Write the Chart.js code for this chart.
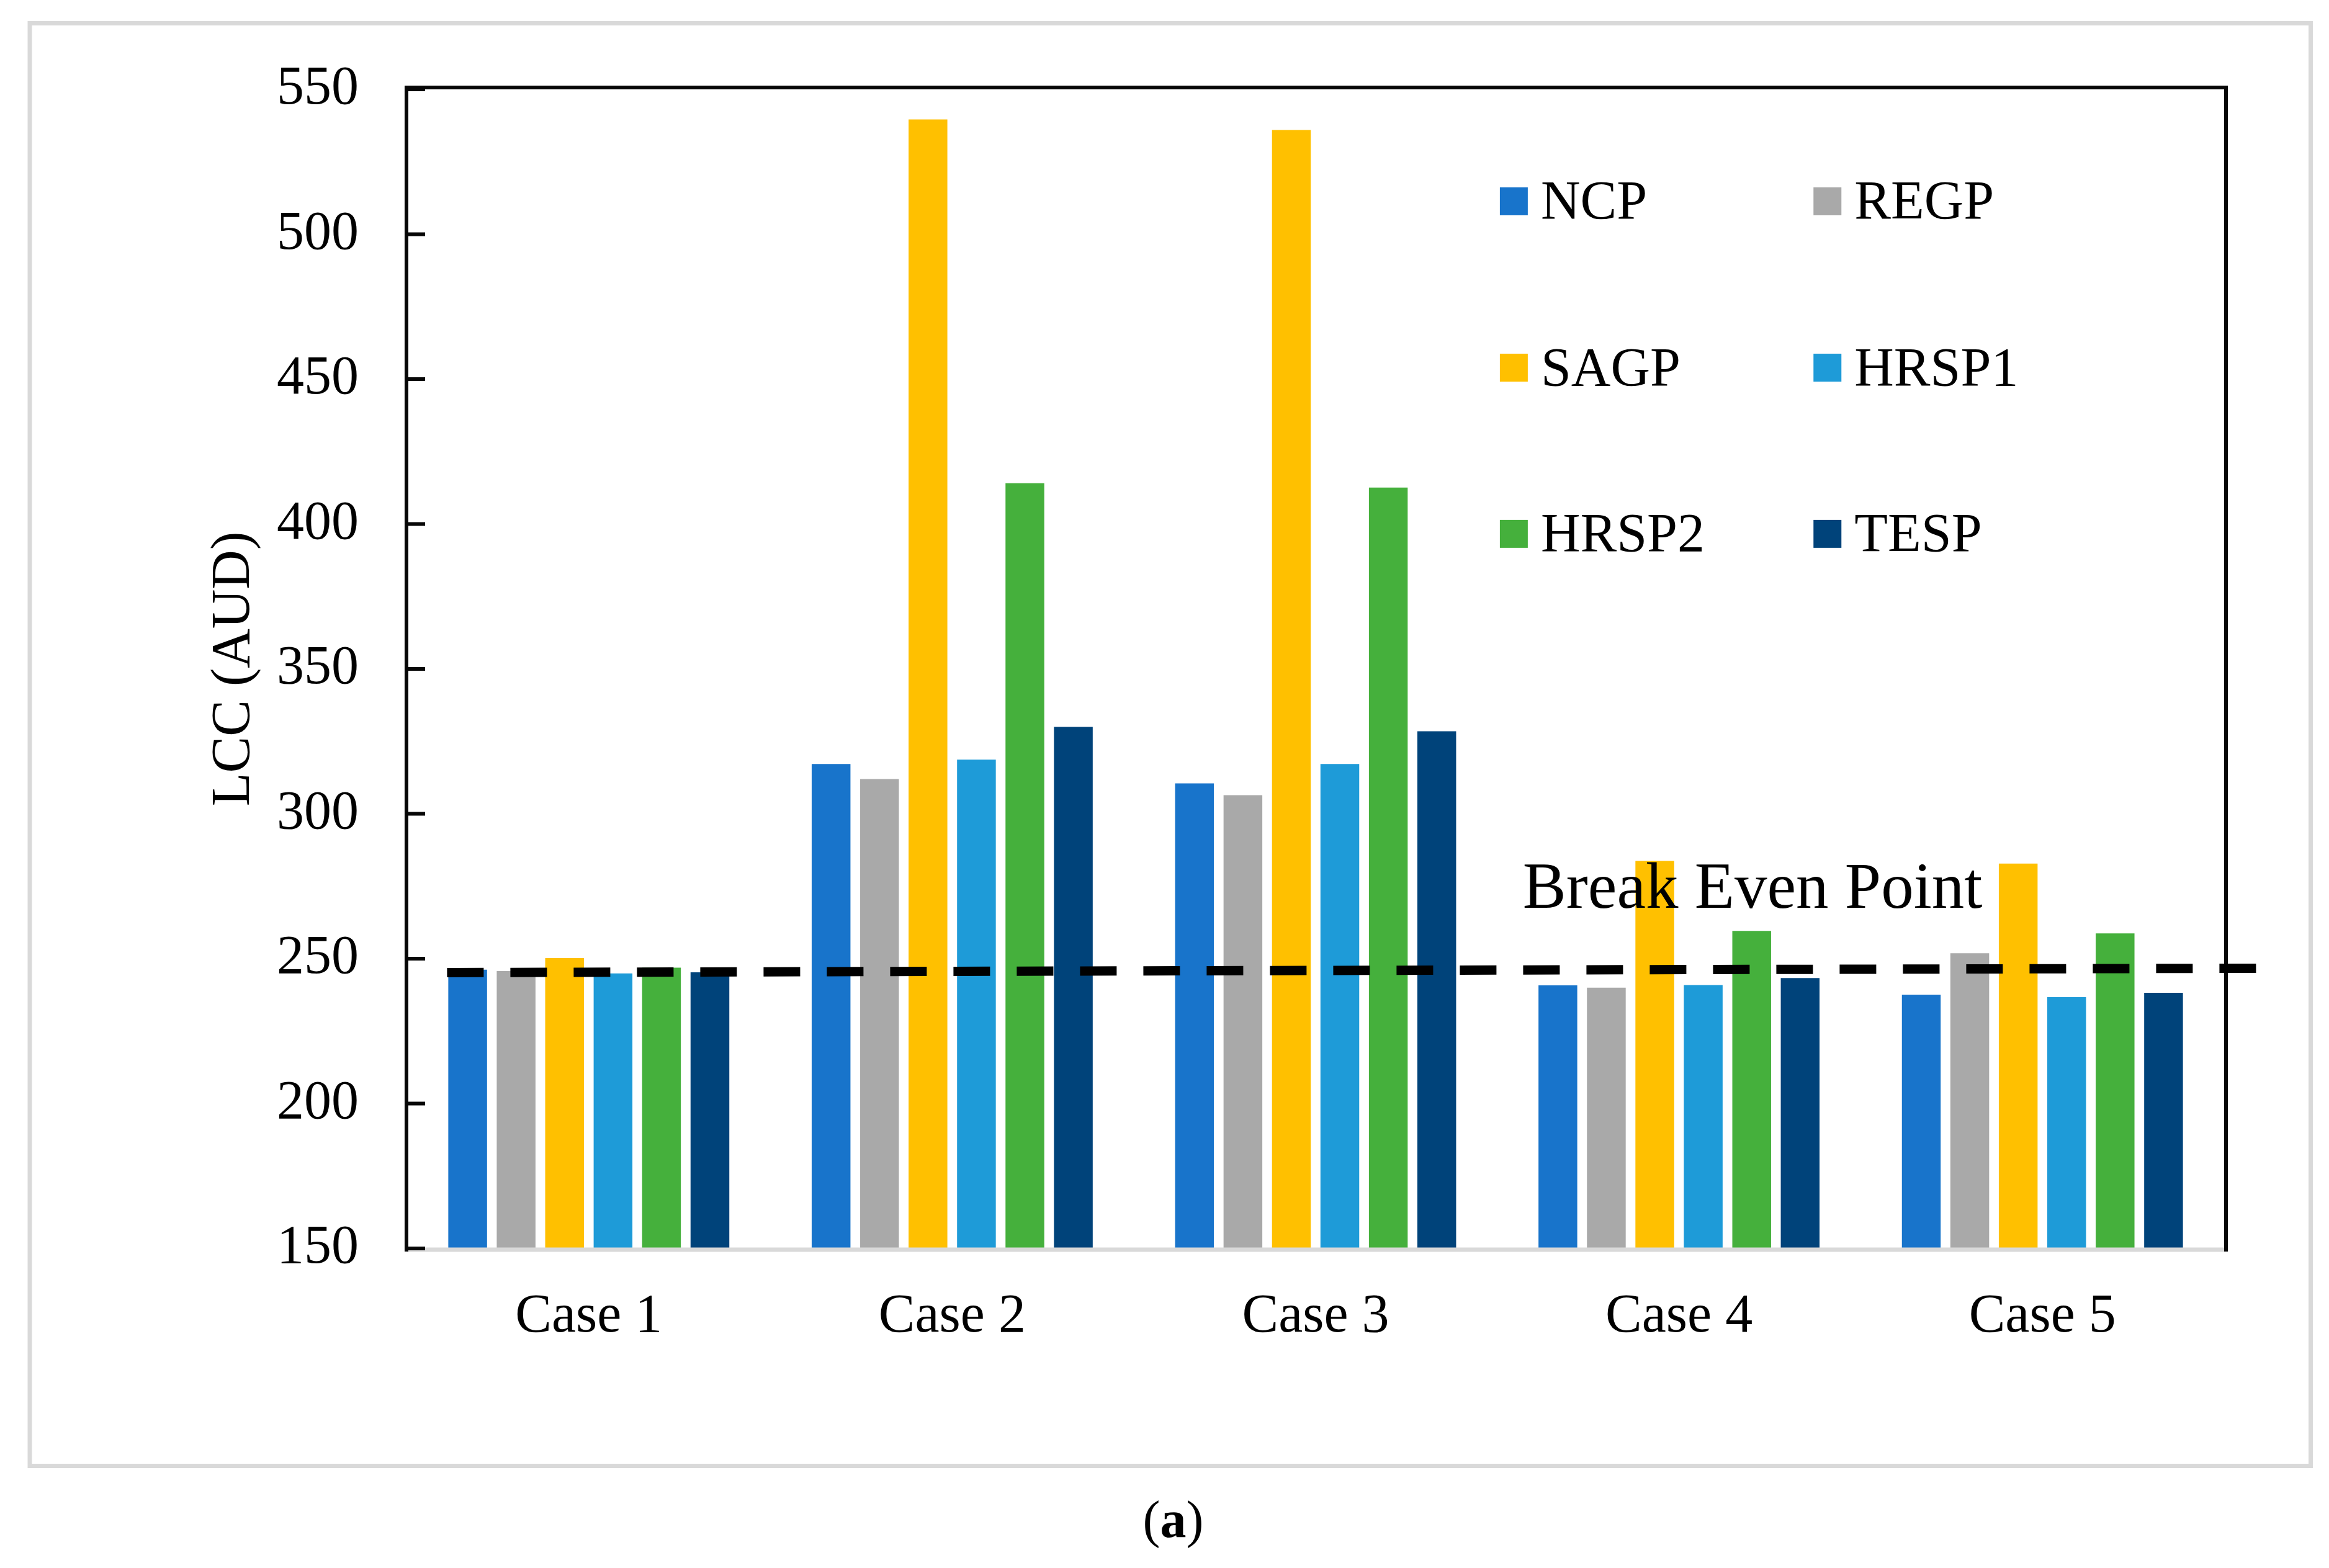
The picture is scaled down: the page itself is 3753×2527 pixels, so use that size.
<!DOCTYPE html>
<html>
<head>
<meta charset="utf-8">
<title>LCC (AUD)</title>
<script src="https://cdn.jsdelivr.net/npm/chart.js@4.4.1/dist/chart.umd.min.js"></script>
<style>
    html, body { margin: 0; padding: 0; background: #fff; }
    .container { position: relative; width: 3753px; height: 2527px; }
</style>
</head>
<body>
<div class="container"><canvas id="lccChart"></canvas></div>
<script>
// data
const cases = ['Case 1', 'Case 2', 'Case 3', 'Case 4', 'Case 5'];
const seriesNames = ['NCP', 'REGP', 'SAGP', 'HRSP1', 'HRSP2', 'TESP'];
const ncp = [246.2, 317.2, 310.5, 240.8, 237.6];
const regp = [245.7, 312.0, 306.4, 240.0, 251.9];
const sagp = [250.2, 539.6, 536.0, 283.7, 282.8];
const hrsp1 = [244.9, 318.7, 317.2, 240.9, 236.7];
const hrsp2 = [246.9, 414.1, 412.6, 259.6, 258.7];
const tesp = [245.3, 330.0, 328.5, 243.3, 238.2];
const yTicks = [150, 200, 250, 300, 350, 400, 450, 500, 550];
const breakEven = [245.2, 246.7]; // left end, right end of the dashed line

const seriesValues = [ncp, regp, sagp, hrsp1, hrsp2, tesp];
const seriesColors = ['#1874CB', '#A9A9A9', '#FFC000', '#1E9BD8', '#45B03C', '#00437A'];
const serif = "'Liberation Serif', 'Times New Roman', serif";

document.addEventListener('DOMContentLoaded', function() {
    const ctx = document.getElementById('lccChart').getContext('2d');

    // frame, inward ticks, break-even line, notes, legend and caption
    const decorations = {
        id: 'decorations',
        afterDatasetsDraw(chart) {
            const c = chart.ctx;
            const area = chart.chartArea;
            const xs = chart.scales.x;
            const ys = chart.scales.y;
            c.save();

            // plot frame
            c.lineCap = 'butt';
            c.strokeStyle = '#d9d9d9';
            c.lineWidth = 7;
            c.beginPath();
            c.moveTo(area.left, area.bottom + 2);
            c.lineTo(area.right, area.bottom + 2);
            c.stroke();
            c.strokeStyle = '#070707';
            c.lineWidth = 6;
            c.beginPath();
            c.moveTo(area.left - 1, area.bottom + 5);
            c.lineTo(area.left - 1, area.top - 3);
            c.lineTo(area.right + 3, area.top - 3);
            c.lineTo(area.right + 3, area.bottom + 5);
            c.stroke();

            // y ticks point into the plot
            yTicks.forEach(v => {
                const py = ys.getPixelForValue(v);
                c.beginPath();
                c.moveTo(area.left - 1, py);
                c.lineTo(area.left + 29, py);
                c.stroke();
            });

            // break even dashed line
            c.strokeStyle = '#000';
            c.lineWidth = 15;
            c.setLineDash([59, 43]);
            c.beginPath();
            c.moveTo(xs.getPixelForValue(-0.39), ys.getPixelForValue(breakEven[0]));
            c.lineTo(xs.getPixelForValue(4.59), ys.getPixelForValue(breakEven[1]));
            c.stroke();
            c.setLineDash([]);

            c.fillStyle = '#000';
            c.font = '105px ' + serif;
            c.textAlign = 'left';
            c.textBaseline = 'alphabetic';
            c.fillText('Break Even Point', xs.getPixelForValue(2.57), ys.getPixelForValue(267.5));

            // legend, two columns
            const colX = [0.6014, 0.774];
            const rowY = [0.0966, 0.2401, 0.3835];
            c.font = '88px ' + serif;
            chart.data.datasets.forEach((ds, i) => {
                const bx = area.left + colX[i % 2] * area.width;
                const cy = area.top + rowY[Math.floor(i / 2)] * area.height;
                c.fillStyle = ds.backgroundColor;
                c.fillRect(bx, cy - 22.5, 45, 45);
                c.fillStyle = '#000';
                c.fillText(ds.label, bx + 66, cy + 28);
            });

            // outer figure frame
            const w = chart.width, h = chart.height;
            c.strokeStyle = '#d9d9d9';
            c.lineWidth = 7;
            c.strokeRect(48, 37.5, w - 77.5, h - 202);

            // caption "(a)"
            const normal = '84px ' + serif;
            const bold = 'bold 84px ' + serif;
            c.font = normal;
            const wOpen = c.measureText('(').width;
            const wClose = c.measureText(')').width;
            c.font = bold;
            const wA = c.measureText('a').width;
            let cx = w / 2 + 14 - (wOpen + wA + wClose) / 2;
            const base = h - 50;
            c.font = normal; c.fillText('(', cx, base); cx += wOpen;
            c.font = bold; c.fillText('a', cx, base); cx += wA;
            c.font = normal; c.fillText(')', cx, base);

            c.restore();
        }
    };

    new Chart(ctx, {
        type: 'bar',
        data: {
            labels: cases,
            datasets: seriesNames.map((name, i) => ({
                label: name,
                data: seriesValues[i],
                backgroundColor: seriesColors[i],
                borderWidth: 0,
                categoryPercentage: 0.8,
                barPercentage: 0.8,
            })),
        },
        options: {
            responsive: true,
            maintainAspectRatio: false,
            devicePixelRatio: 1,
            animation: false,
            layout: {
                padding: { left: 325, right: 169, top: 144, bottom: 315 },
            },
            plugins: {
                legend: { display: false },
                tooltip: { enabled: false },
            },
            scales: {
                x: {
                    grid: { display: false, drawTicks: false },
                    border: { display: false },
                    ticks: {
                        color: '#000',
                        padding: 58,
                        font: { family: serif, size: 88 },
                    },
                    afterFit: s => { s.height = 200; },
                },
                y: {
                    min: 150,
                    max: 550,
                    afterBuildTicks: s => { s.ticks = yTicks.map(v => ({ value: v })); },
                    grid: { display: false, drawTicks: false },
                    border: { display: false },
                    ticks: {
                        color: '#000',
                        padding: 78,
                        font: { family: serif, size: 88 },
                    },
                    title: {
                        display: true,
                        text: 'LCC (AUD)',
                        color: '#000',
                        padding: 0,
                        font: { family: serif, size: 88, lineHeight: 1.2 },
                    },
                    afterFit: s => { s.width = 331; },
                },
            },
        },
        plugins: [decorations],
    });
});
</script>
</body>
</html>
